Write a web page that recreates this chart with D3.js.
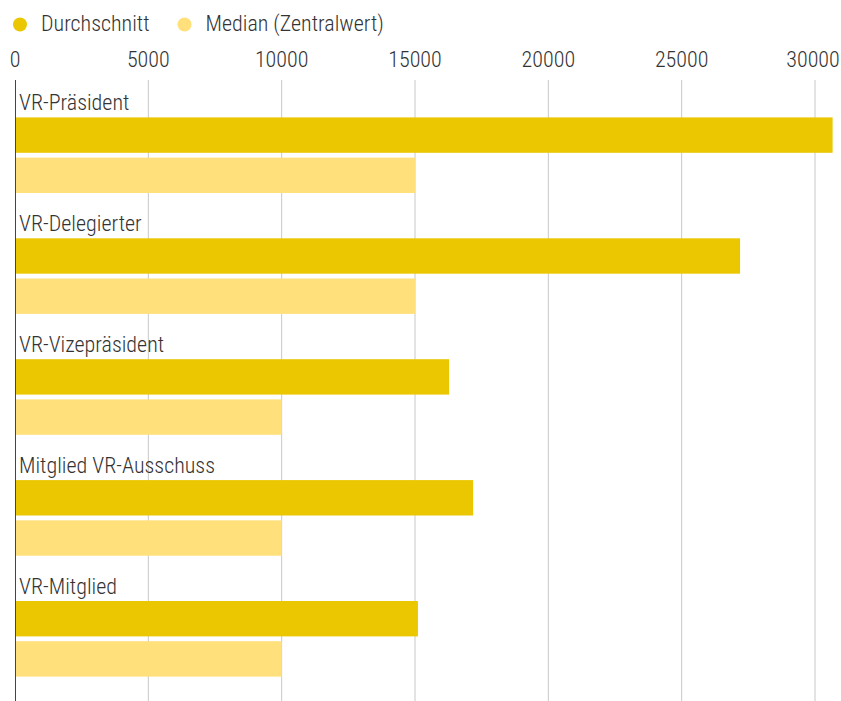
<!DOCTYPE html>
<html>
<head>
<meta charset="utf-8">
<script src="https://cdn.jsdelivr.net/npm/d3@7"></script>
<style>
  html, body { margin: 0; padding: 0; background: #fff; }
  svg { display: block; }
  text { font-family: "Liberation Sans Narrow", "Roboto Condensed", "Roboto", sans-serif; fill: #333; font-weight: 300; }
</style>
</head>
<body>
<div id="chart"></div>
<script>
const W = 841, H = 701;

// data
const categories = ["VR-Präsident", "VR-Delegierter", "VR-Vizepräsident", "Mitglied VR-Ausschuss", "VR-Mitglied"];
const series = ["Durchschnitt", "Median (Zentralwert)"];
const average = [30660, 27190, 16280, 17180, 15110];
const median = [15000, 15000, 10000, 10000, 10000];
const tickValues = [0, 5000, 10000, 15000, 20000, 25000, 30000];
const colors = ["#EAC700", "#FFE07A"];

const left = 15, plotTop = 80;

const svg = d3.select("#chart").append("svg").attr("width", W).attr("height", H);

const x = d3.scaleLinear().domain([0, 30000]).range([left, left + 800]);
const y = d3.scaleBand().domain(categories).range([plotTop, plotTop + 5 * 120.9]);
const ySub = d3.scaleBand().domain(series).range([37.4, 113]).paddingInner(0.12);

// legend
const legend = svg.append("g");
const legendX = [20, 184.5];
series.forEach((s, i) => {
    legend.append("circle").attr("cx", legendX[i]).attr("cy", 24.5).attr("r", 7).attr("fill", colors[i]);
    legend.append("text").attr("x", legendX[i] + 21).attr("y", 31)
        .attr("font-size", "22px").text(s);
});

// gridlines
svg.append("g").selectAll("line")
    .data(tickValues.filter(d => d > 0)).enter().append("line")
    .attr("x1", d => x(d)).attr("x2", d => x(d))
    .attr("y1", plotTop).attr("y2", H)
    .attr("stroke", "#c8c8c8").attr("stroke-width", 1);

// tick labels (last one kept inside the frame)
svg.append("g").selectAll("text")
    .data(tickValues).enter().append("text")
    .attr("x", d => Math.min(x(d), 813))
    .attr("y", 67)
    .attr("text-anchor", "middle")
    .attr("font-size", "22px")
    .text(d => d);

// bars
const groups = svg.selectAll(".grp").data(categories).enter().append("g")
    .attr("class", "grp")
    .attr("transform", d => `translate(0,${y(d)})`);

groups.append("text")
    .attr("x", left + 4).attr("y", 30)
    .attr("font-size", "22px")
    .text(d => d);

groups.each(function (c, i) {
    const vals = [average[i], median[i]];
    d3.select(this).selectAll("rect").data(vals).enter().append("rect")
        .attr("x", x(0))
        .attr("y", (d, j) => ySub(series[j]))
        .attr("width", d => x(d) - x(0))
        .attr("height", ySub.bandwidth())
        .attr("fill", (d, j) => colors[j]);
});

// axis line
svg.append("line")
    .attr("x1", x(0) + 0.5).attr("x2", x(0) + 0.5)
    .attr("y1", plotTop).attr("y2", H)
    .attr("stroke", "#444").attr("stroke-width", 1);
</script>
</body>
</html>
